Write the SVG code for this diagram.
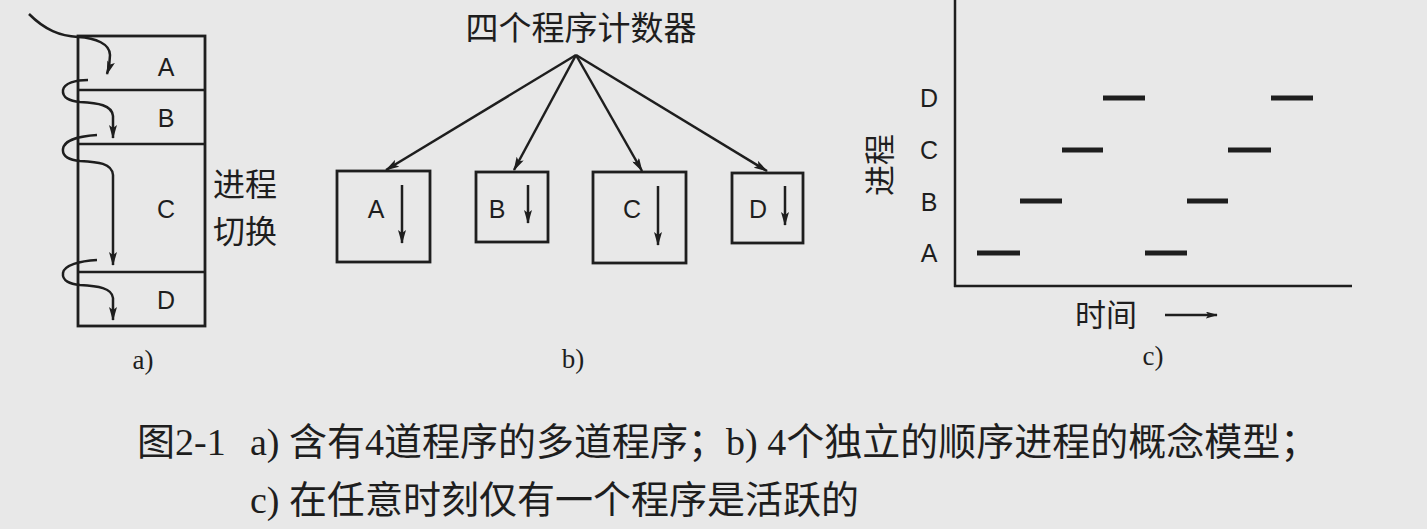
<svg xmlns="http://www.w3.org/2000/svg" width="1427" height="529" viewBox="0 0 1427 529">
<style>
.bg{fill:#e8e8e8}
.ln{fill:none;stroke:#1e1e1e;stroke-width:2.5}
.box{fill:none;stroke:#1e1e1e;stroke-width:2.8}
.bar{stroke:#1e1e1e;stroke-width:5}
.lat{font-family:"Liberation Sans",Arial,sans-serif;font-size:25px;fill:#1e1e1e;text-anchor:middle}
.cjk{font-family:"Noto Sans CJK SC","Noto Sans",sans-serif;fill:#1e1e1e}
.sub{font-family:"Liberation Serif","Times New Roman",serif;font-size:27px;fill:#1e1e1e;text-anchor:middle}
.cap{font-family:"Liberation Serif","Noto Sans CJK SC",serif;font-size:38px;fill:#1e1e1e}
</style>
<defs>
<marker id="ah" viewBox="0 0 14 8" refX="13" refY="4" markerWidth="14" markerHeight="8" markerUnits="userSpaceOnUse" orient="auto">
<path d="M0,0 L14,4 L0,8 L3,4 Z" fill="#1e1e1e"/>
</marker>
<marker id="ahs" viewBox="0 0 14 8" refX="13" refY="4" markerWidth="12" markerHeight="7" markerUnits="userSpaceOnUse" orient="auto">
<path d="M0,0 L14,4 L0,8 L3,4 Z" fill="#1e1e1e"/>
</marker>
</defs>
<rect class="bg" x="0" y="0" width="1427" height="529"/>

<!-- Part a -->
<g id="a-stack">
<rect class="box" x="78" y="36" width="127" height="290"/>
<line class="ln" x1="78" y1="90" x2="205" y2="90"/>
<line class="ln" x1="78" y1="144" x2="205" y2="144"/>
<line class="ln" x1="78" y1="272" x2="205" y2="272"/>
<text class="lat" x="166" y="76">A</text>
<text class="lat" x="166" y="127">B</text>
<text class="lat" x="166" y="218">C</text>
<text class="lat" x="166" y="309">D</text>
</g>
<g id="a-label">
<text class="cjk" x="213" y="196" font-size="32">进程</text>
<text class="cjk" x="213" y="243" font-size="32">切换</text>
<text class="sub" x="143" y="369">a)</text>
</g>
<g id="a-flow">
<path class="ln" marker-end="url(#ah)" d="M29,14 C45,30 60,36 78,37 C96,38 110,44 110,55 C110,62 109,68 107,74"/>
<path class="ln" marker-end="url(#ah)" d="M88,80 C76,80 64,83 63,90 C62,98 70,101 80,102 C98,103 112,105 113,116 L113,138"/>
<path class="ln" marker-end="url(#ah)" d="M97,135 C80,136 64,140 63,149 C62,157 70,160 80,161 C98,162 112,163 113,175 L113,265"/>
<path class="ln" marker-end="url(#ah)" d="M97,260 C80,261 64,265 63,273 C62,281 70,284 80,285 C98,286 112,288 113,298 L113,320"/>
</g>

<!-- Part b -->
<g id="b-title">
<text class="cjk" x="581" y="40" font-size="33" text-anchor="middle">四个程序计数器</text>
</g>
<g id="b-A">
<rect class="box" x="337" y="171" width="93" height="91"/>
<text class="lat" x="376" y="218">A</text>
<line class="ln" marker-end="url(#ah)" x1="402" y1="185" x2="402" y2="243"/>
</g>
<g id="b-B">
<rect class="box" x="476" y="172" width="72" height="70"/>
<text class="lat" x="497" y="218">B</text>
<line class="ln" marker-end="url(#ah)" x1="528" y1="185" x2="528" y2="223"/>
</g>
<g id="b-C">
<rect class="box" x="593" y="172" width="93" height="91"/>
<text class="lat" x="632" y="218">C</text>
<line class="ln" marker-end="url(#ah)" x1="658" y1="186" x2="658" y2="245"/>
</g>
<g id="b-D">
<rect class="box" x="732" y="173" width="71" height="70"/>
<text class="lat" x="758" y="218">D</text>
<line class="ln" marker-end="url(#ah)" x1="785" y1="186" x2="785" y2="225"/>
</g>
<g id="b-connectors">
<line class="ln" marker-end="url(#ah)" x1="576" y1="55" x2="386" y2="170"/>
<line class="ln" marker-end="url(#ah)" x1="576" y1="55" x2="514" y2="170"/>
<line class="ln" marker-end="url(#ah)" x1="576" y1="55" x2="642" y2="171"/>
<line class="ln" marker-end="url(#ah)" x1="576" y1="55" x2="767" y2="171"/>
</g>
<g id="b-label"><text class="sub" x="573" y="368">b)</text></g>

<!-- Part c -->
<g id="c-axes">
<line class="ln" x1="955" y1="0" x2="955" y2="287"/>
<line class="ln" x1="954" y1="286" x2="1352" y2="286"/>
<text class="lat" x="929" y="107" font-size="24">D</text>
<text class="lat" x="929" y="159" font-size="24">C</text>
<text class="lat" x="929" y="211" font-size="24">B</text>
<text class="lat" x="929" y="262" font-size="24">A</text>
<text class="cjk" font-size="31" text-anchor="middle" transform="translate(891,165) rotate(-90)">进程</text>
<text class="cjk" x="1075" y="326" font-size="31">时间</text>
<line class="ln" stroke-width="2" marker-end="url(#ahs)" x1="1165" y1="315" x2="1217" y2="315"/>
<text class="sub" x="1153" y="365">c)</text>
</g>
<g id="c-bars">
<line class="bar" x1="977" y1="253" x2="1020" y2="253"/>
<line class="bar" x1="1020" y1="201" x2="1062" y2="201"/>
<line class="bar" x1="1062" y1="150" x2="1103" y2="150"/>
<line class="bar" x1="1103" y1="98" x2="1145" y2="98"/>
<line class="bar" x1="1145" y1="253" x2="1187" y2="253"/>
<line class="bar" x1="1187" y1="201" x2="1228" y2="201"/>
<line class="bar" x1="1228" y1="150" x2="1271" y2="150"/>
<line class="bar" x1="1271" y1="98" x2="1313" y2="98"/>
</g>

<!-- Caption -->
<g id="caption">
<text class="cap" x="137" y="455">图2-1</text>
<text class="cap" x="250" y="455">a) 含有4道程序的多道程序；b) 4个独立的顺序进程的概念模型；</text>
<text class="cap" x="250" y="513">c) 在任意时刻仅有一个程序是活跃的</text>
</g>
</svg>
